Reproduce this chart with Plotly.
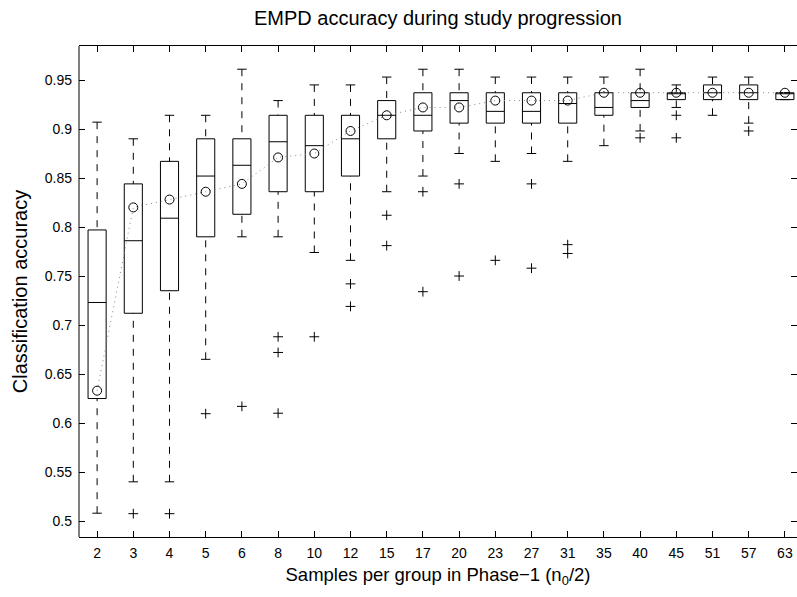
import plotly.graph_objects as go

categories = [2, 3, 4, 5, 6, 8, 10, 12, 15, 17, 20, 23, 27, 31, 35, 40, 45, 51, 57, 63]

upper_whisker = [0.907, 0.890, 0.914, 0.914, 0.961, 0.929, 0.945, 0.945, 0.953, 0.961,
                 0.961, 0.953, 0.953, 0.953, 0.953, 0.961, 0.945, 0.953, 0.953, 0.937]
q3_vals = [0.797, 0.844, 0.867, 0.890, 0.890, 0.914, 0.914, 0.914, 0.929, 0.937,
           0.937, 0.937, 0.937, 0.937, 0.937, 0.937, 0.937, 0.945, 0.945, 0.937]
median_vals = [0.723, 0.786, 0.809, 0.852, 0.863, 0.887, 0.883, 0.890, 0.914, 0.914,
               0.929, 0.918, 0.918, 0.926, 0.922, 0.929, 0.937, 0.937, 0.937, 0.937]
q1_vals = [0.625, 0.712, 0.735, 0.790, 0.813, 0.836, 0.836, 0.852, 0.890, 0.898,
           0.906, 0.906, 0.906, 0.906, 0.914, 0.922, 0.930, 0.930, 0.930, 0.930]
lower_whisker = [0.508, 0.540, 0.540, 0.665, 0.790, 0.790, 0.774, 0.766, 0.836, 0.852,
                 0.875, 0.867, 0.875, 0.867, 0.883, 0.898, 0.922, 0.914, 0.906, 0.930]
mean_vals = [0.633, 0.820, 0.828, 0.836, 0.844, 0.871, 0.875, 0.898, 0.914, 0.922,
             0.922, 0.929, 0.929, 0.929, 0.937, 0.937, 0.937, 0.937, 0.937, 0.937]

outlier_cat = [3, 4, 5, 6, 8, 8, 8, 10, 12, 12, 15, 15, 17, 17, 20, 20, 23, 27, 27, 31, 31, 40, 45, 45, 57]
outlier_val = [0.5075, 0.5075, 0.6095, 0.617, 0.688, 0.672, 0.610, 0.688, 0.742, 0.719,
               0.812, 0.781, 0.836, 0.734, 0.844, 0.750, 0.766, 0.844, 0.758, 0.782,
               0.773, 0.891, 0.914, 0.891, 0.898]

title_text = "EMPD accuracy during study progression"
xlabel = "Samples per group in Phase\u22121 (n<sub>0</sub>/2)"
ylabel = "Classification accuracy"
ytick_vals = [0.5, 0.55, 0.6, 0.65, 0.7, 0.75, 0.8, 0.85, 0.9, 0.95]
ytick_text = ["0.5", "0.55", "0.6", "0.65", "0.7", "0.75", "0.8", "0.85", "0.9", "0.95"]

FONT = "Liberation Sans, Arial, Helvetica, sans-serif"
pos = list(range(1, len(categories) + 1))
BOX_W = 0.5
CAP_HALF = 0.13

fig = go.Figure()

# whiskers (dashed)
wx, wy = [], []
for p, lo, q1, q3, hi in zip(pos, lower_whisker, q1_vals, q3_vals, upper_whisker):
    wx += [p, p, None, p, p, None]
    wy += [hi, q3, None, lo, q1, None]
fig.add_trace(go.Scatter(x=wx, y=wy, mode="lines",
                         line=dict(color="black", width=1, dash="7px,7px"),
                         hoverinfo="skip", showlegend=False))

# whisker caps
cx, cy = [], []
for p, lo, hi in zip(pos, lower_whisker, upper_whisker):
    cx += [p - CAP_HALF, p + CAP_HALF, None, p - CAP_HALF, p + CAP_HALF, None]
    cy += [hi, hi, None, lo, lo, None]
fig.add_trace(go.Scatter(x=cx, y=cy, mode="lines",
                         line=dict(color="black", width=1),
                         hoverinfo="skip", showlegend=False))

# boxes
fig.add_trace(go.Box(x=pos, q1=q1_vals, median=median_vals, q3=q3_vals,
                     lowerfence=q1_vals, upperfence=q3_vals,
                     width=BOX_W, whiskerwidth=0,
                     line=dict(color="black", width=1),
                     fillcolor="rgba(255,255,255,0)",
                     boxpoints=False, showlegend=False, hoverinfo="skip"))

# mean trend (dotted)
fig.add_trace(go.Scatter(x=pos, y=mean_vals, mode="lines",
                         line=dict(color="#888888", width=1, dash="1px,4px"),
                         hoverinfo="skip", showlegend=False))
fig.add_trace(go.Scatter(x=pos, y=mean_vals, mode="markers",
                         marker=dict(symbol="circle-open", size=9, color="black",
                                     line=dict(color="black", width=1)),
                         showlegend=False))

# outliers
ox = [categories.index(c) + 1 for c in outlier_cat]
fig.add_trace(go.Scatter(x=ox, y=outlier_val, mode="markers",
                         marker=dict(symbol="cross-thin", size=7, color="black",
                                     line=dict(color="black", width=1)),
                         showlegend=False))

W, H = 797, 597
ML, MR, MT, MB = 79, 0, 46, 60
px_per_cat = 36.2
plot_w = W - ML - MR
x_hi = 0.5 + plot_w / px_per_cat

fig.update_layout(
    width=W, height=H,
    margin=dict(l=ML, r=MR, t=MT, b=MB, autoexpand=False),
    paper_bgcolor="white", plot_bgcolor="white",
    font=dict(family=FONT, size=14, color="black"),
    title=dict(text=title_text, x=(ML + plot_w / 2) / W, xanchor="center",
               xref="container", y=1 - 18 / H, yref="container", yanchor="middle",
               font=dict(family=FONT, size=20, color="black")),
    showlegend=False,
)
fig.update_xaxes(
    range=[0.5, x_hi], tickmode="array", tickvals=pos,
    ticktext=[str(c) for c in categories],
    ticks="inside", ticklen=6, tickcolor="black", tickwidth=1,
    showline=True, linecolor="black", linewidth=1, mirror="ticks",
    showgrid=False, zeroline=False, automargin=False,
    ticklabelstandoff=3,
    tickfont=dict(family=FONT, size=14, color="black"),
    title=dict(text=xlabel, standoff=8, font=dict(family=FONT, size=18.5, color="black")),
)
fig.update_yaxes(
    range=[0.4837, 0.9847], tickmode="array", tickvals=ytick_vals, ticktext=ytick_text,
    ticks="inside", ticklen=6, tickcolor="black", tickwidth=1,
    showline=False, mirror="ticks",
    showgrid=False, zeroline=False, automargin=False,
    ticklabelstandoff=6,
    tickfont=dict(family=FONT, size=14, color="black"),
    title=dict(text=ylabel, standoff=11, font=dict(family=FONT, size=20, color="black")),
)
fig.add_shape(type="line", xref="paper", yref="paper", x0=0, x1=0, y0=0, y1=1,
              line=dict(color="black", width=1), layer="above")

fig.write_html(
    "out.html",
    config={"displayModeBar": False},
    post_script="document.body.style.margin='0';document.body.style.padding='0';"
                "document.body.style.overflow='hidden';",
)
